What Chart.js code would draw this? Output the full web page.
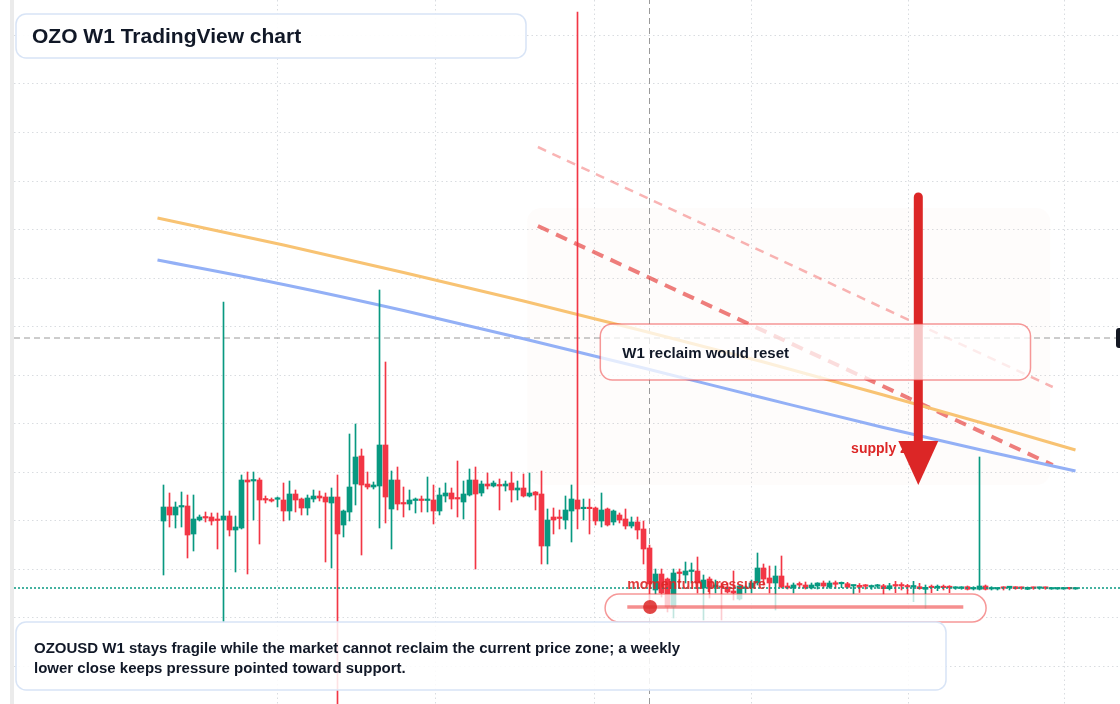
<!DOCTYPE html>
<html>
<head>
<meta charset="utf-8">
<script src="https://cdn.jsdelivr.net/npm/chart.js@4.4.1/dist/chart.umd.min.js"></script>
<style>
html, body { margin: 0; padding: 0; background: #fff; }
#wrap { width: 1120px; height: 704px; }
</style>
</head>
<body>
<div id="wrap"><canvas id="chart" width="1120" height="704"></canvas></div>
<script>
// weekly candles, price in chart units (index 0 = first week shown)
const opens = [193,207,199,207,208,180,194,197,197,194.5,194,198,184,186,234,233,234,215,214,214.7,
  214,203,220,215,206,215,218,217,211,217,189,202,230,258,230,227,228,269,205,234,
  211,210,213.5,214.5,213.5,214,203,218,221,216,212,219,234,221,230,228,229,228,231,224,
  226,218,222,220,168,197,196.5,194,203,214,205.3,206,206,193,205,192,199,195,188,192,
  185,166,124,140,135,107,141.5,139,142.5,143,126,135,127,127.5,127,123,115,125.5,126,131,
  146,136,131,138,128,126,130,129,126,128,131,127,131.3,130.2,130.3,128,128.7,128.3,127,127.7,
  128.3,125.3,128.7,128.7,127.7,127,127.3,124.7,127,126.3,127,127,125.7,125.7,127.3,125,124.7,128,125,125,
  126.3,126.3,127.3,126.3,124.7,126.3,125.7,126.3,125,125,125,125.7,125];
const highs = [229,221,212,222,219,219,199,202,201,201,412,203,198,239,242,242,236,218,216,217,
  231,233,224,216,219,224,223,221,226,239,204,280,290,265,242,232,424,352,243,247,
  227,224,216,218,237,229,226,231,226,253,233,245,247,233,241,233,235,233,242,233,
  240,241,222.5,243,205,206,204,218,229,702,215,215,207,221,206,204,201,205,197,197,
  193,169,145,145,136,145,145,152,151,157,139,137,134,131,131,143,128.5,128,134,161,
  150,148,148,158,131,131,132,132,131,131.3,133,133,133,132,131.7,129,130.5,129.5,129,129.7,
  129.7,130.7,132.7,131.3,129.7,132.7,130.7,129,129,129,129,128.3,127.3,127.3,128,127.3,257,129,127.3,126.3,
  127.3,127.3,127.3,127,127,127,127,127,126.3,126.3,126.3,126.3,126];
const lows = [139,187,186,187,156,163,193,192,189,165,92,178,142,185,140,194,170,211,212,207,
  193,194,202,199,199,212,213,152,146,0,177,193,209,159,225,225,186,191,165,204,
  197,204,201,202,202,190,199,212,205,197,195,218,145,218,225,227,204,223,212,214,
  217,217,204,150,150,180,185,185,172,185,194,180,189,187,188,189,191,185,186,175,
  150,111,120,117,102,96,131,131,131,121,94,116,121,94,121,114,114,121,121,129,
  129,121,104,126,125,121,126,125,125,125,126,125.7,125.7,126.3,125.7,120.3,121.5,125,124.7,125.7,
  119.7,124,121.3,124,119.7,112.3,124.7,105.7,121.3,123.3,124,121.3,124.7,124.7,124,124,124,124,124,124,
  124,124,124.7,124.7,124.3,124.7,124.7,124.7,124.7,124.7,124.7,124.7,124.7];
const closes = [207,199,207,208,179,195,197,196,193,193.5,198,184,187,234,232,234,214,214,213,215.3,
  203,220,214,206,216,218,216,212,217,180,203,227,257,229,227,229,269,217,234,210,
  210,214,214.5,213.5,214.5,203,219,221,215,215,220,234,220,230,228,231,228,230,224,226,
  218,221,219,168,194,194,195.5,204,215,205,206,205.3,193,204,189,203,194,188,192,184,
  165,130,140,121,107,141,140.5,143,143.5,131,134,127,129,126.5,122,121,128,126.5,131,146,
  135,131,138,127,126,129,129,126,129,131,128,131,129.7,131.2,126.7,128.8,126.7,127.7,128,128.5,
  125.3,128.3,128,128,127,127.7,125.3,126.7,126.3,127,126.3,126.3,126.3,126.3,124.7,125.7,128,124.7,125.7,125.7,
  125.7,127,125.3,125.7,126.7,125.7,126.3,125.7,125.7,125.7,125.7,125.2,125.7];

// moving averages, read at a few weeks
const maWeeks = [-1, 20, 40, 60, 80, 100, 120, 140, 152];
const maOrange = [496, 469, 441.5, 413, 383, 352, 319, 285, 264];
const maBlue = [454, 429.5, 403.5, 375.3, 346, 316, 286.5, 259, 243];

// descending trend lines [start, end]
const trendWeeks = [62.4, 148.2];
const trendUpper = [567, 327];
const trendLower = [488, 249];

// reference levels
const lastPrice = 126;
const crossWeek = 81;
const crossPrice = 376;

// annotation anchors (week, price)
const supplyZone = { w0: 60.6, w1: 147.8, p0: 229, p1: 506 };
const reclaimBox = { w0: 72.8, w1: 144.5, p0: 334, p1: 390 };
const arrow = { w: 125.8, top: 517, base: 273, tip: 229 };
const momentumPill = { w0: 73.6, w1: 137.1, p0: 92, p1: 120, line0: 77.3, line1: 133.3, lineP: 107, dot: 81.1 };
const supplyLabel = { w: 114.6, p: 261 };
const momentumLabel = { w: 77.3, p: 125 };

const gridWeeks = [19, 45.3, 71.8, 98, 124.1, 150.1];
const gridPrices = [48, 96.5, 145, 193.5, 242, 290.5, 339, 387.5, 436, 484.5, 533, 581.5, 630, 678.5];

const X_MIN = -24.9167, X_MAX = 159.4167, Y_MIN = 10, Y_MAX = 714;
const GREEN = '#089981', RED = '#f23645';

const idx = opens.map((_, i) => i);
const candleColors = idx.map(i => closes[i] >= opens[i] ? GREEN : RED);

function rr(ctx, x, y, w, h, r) {
  ctx.beginPath();
  ctx.moveTo(x + r, y);
  ctx.arcTo(x + w, y, x + w, y + h, r);
  ctx.arcTo(x + w, y + h, x, y + h, r);
  ctx.arcTo(x, y + h, x, y, r);
  ctx.arcTo(x, y, x + w, y, r);
  ctx.closePath();
}

const overlay = {
  id: 'overlay',
  beforeDraw(chart) {
    const ctx = chart.ctx;
    ctx.save();
    ctx.fillStyle = '#ffffff';
    ctx.fillRect(0, 0, chart.width, chart.height);
    ctx.fillStyle = '#ebebeb';
    ctx.fillRect(10, 0, 4, chart.height);
    ctx.restore();
  },
  beforeDatasetsDraw(chart) {
    const ctx = chart.ctx, x = chart.scales.x, y = chart.scales.y;
    ctx.save();
    const zx0 = x.getPixelForValue(supplyZone.w0), zx1 = x.getPixelForValue(supplyZone.w1);
    const zy0 = y.getPixelForValue(supplyZone.p1), zy1 = y.getPixelForValue(supplyZone.p0);
    rr(ctx, zx0, zy0, zx1 - zx0, zy1 - zy0, 14);
    ctx.fillStyle = 'rgba(235,200,180,0.05)';
    ctx.fill();
    ctx.restore();
  },
  afterDatasetsDraw(chart) {
    const ctx = chart.ctx, x = chart.scales.x, y = chart.scales.y;
    ctx.save();

    // momentum label
    ctx.font = 'bold 14px "Liberation Sans", Arial, sans-serif';
    ctx.fillStyle = 'rgba(220,38,38,0.9)';
    ctx.textBaseline = 'alphabetic';
    ctx.fillText('momentum pressure', x.getPixelForValue(momentumLabel.w), y.getPixelForValue(momentumLabel.p));

    // momentum pill
    const px0 = x.getPixelForValue(momentumPill.w0), px1 = x.getPixelForValue(momentumPill.w1);
    const py0 = y.getPixelForValue(momentumPill.p1), py1 = y.getPixelForValue(momentumPill.p0);
    rr(ctx, px0, py0, px1 - px0, py1 - py0, (py1 - py0) / 2);
    ctx.fillStyle = 'rgba(255,255,255,0.75)';
    ctx.fill();
    ctx.strokeStyle = 'rgba(239,68,68,0.55)';
    ctx.lineWidth = 1.5;
    ctx.stroke();
    const ly = y.getPixelForValue(momentumPill.lineP);
    ctx.beginPath();
    ctx.moveTo(x.getPixelForValue(momentumPill.line0), ly);
    ctx.lineTo(x.getPixelForValue(momentumPill.line1), ly);
    ctx.strokeStyle = 'rgba(239,68,68,0.6)';
    ctx.lineWidth = 3.5;
    ctx.stroke();
    ctx.beginPath();
    ctx.arc(x.getPixelForValue(momentumPill.dot), ly, 7, 0, Math.PI * 2);
    ctx.fillStyle = 'rgba(220,38,38,0.85)';
    ctx.fill();

    // supply label + arrow
    ctx.font = 'bold 14px "Liberation Sans", Arial, sans-serif';
    ctx.fillStyle = '#dc2626';
    ctx.fillText('supply zone', x.getPixelForValue(supplyLabel.w), y.getPixelForValue(supplyLabel.p));
    const ax = x.getPixelForValue(arrow.w);
    const aTop = y.getPixelForValue(arrow.top), aBase = y.getPixelForValue(arrow.base), aTip = y.getPixelForValue(arrow.tip);
    ctx.beginPath();
    ctx.moveTo(ax, aTop);
    ctx.lineTo(ax, aBase + 2);
    ctx.strokeStyle = '#dc2626';
    ctx.lineWidth = 9;
    ctx.lineCap = 'round';
    ctx.stroke();
    ctx.beginPath();
    ctx.moveTo(ax - 20, aBase);
    ctx.lineTo(ax + 20, aBase);
    ctx.lineTo(ax, aTip);
    ctx.closePath();
    ctx.fillStyle = '#dc2626';
    ctx.fill();

    // reclaim box
    const bx0 = x.getPixelForValue(reclaimBox.w0), bx1 = x.getPixelForValue(reclaimBox.w1);
    const by0 = y.getPixelForValue(reclaimBox.p1), by1 = y.getPixelForValue(reclaimBox.p0);
    rr(ctx, bx0, by0, bx1 - bx0, by1 - by0, 12);
    ctx.fillStyle = 'rgba(255,255,255,0.74)';
    ctx.fill();
    ctx.strokeStyle = 'rgba(239,68,68,0.55)';
    ctx.lineWidth = 1.5;
    ctx.stroke();
    ctx.font = 'bold 15px "Liberation Sans", Arial, sans-serif';
    ctx.fillStyle = '#111827';
    ctx.fillText('W1 reclaim would reset', bx0 + 22, by0 + 34);

    // title box
    rr(ctx, 16, 14, 510, 44, 10);
    ctx.fillStyle = 'rgba(255,255,255,0.92)';
    ctx.fill();
    ctx.strokeStyle = '#d8e4f6';
    ctx.lineWidth = 1.5;
    ctx.stroke();
    ctx.font = 'bold 21px "Liberation Sans", Arial, sans-serif';
    ctx.fillStyle = '#111827';
    ctx.fillText('OZO W1 TradingView chart', 32, 43);

    // caption box
    rr(ctx, 16, 622, 930, 68, 10);
    ctx.fillStyle = 'rgba(255,255,255,0.86)';
    ctx.fill();
    ctx.strokeStyle = '#d8e4f6';
    ctx.stroke();
    ctx.font = 'bold 15px "Liberation Sans", Arial, sans-serif';
    ctx.fillStyle = '#111827';
    ctx.fillText('OZOUSD W1 stays fragile while the market cannot reclaim the current price zone; a weekly', 34, 653);
    ctx.fillText('lower close keeps pressure pointed toward support.', 34, 673);

    // price label at right edge
    const cy = y.getPixelForValue(crossPrice);
    rr(ctx, 1116, cy - 10, 20, 20, 3);
    ctx.fillStyle = '#131722';
    ctx.fill();
    ctx.restore();
  }
};

new Chart(document.getElementById('chart'), {
  type: 'bar',
  data: {
    datasets: [
      {
        type: 'line', label: 'crosshair h',
        data: [{ x: X_MIN, y: crossPrice }, { x: X_MAX, y: crossPrice }],
        borderColor: '#9a9a9a', borderWidth: 1, borderDash: [6, 4], pointRadius: 0, order: 10
      },
      {
        type: 'line', label: 'crosshair v',
        data: [{ x: crossWeek, y: Y_MIN }, { x: crossWeek, y: Y_MAX }],
        borderColor: '#9a9a9a', borderWidth: 1, borderDash: [6, 4], pointRadius: 0, order: 10
      },
      {
        type: 'line', label: 'trend upper',
        data: trendWeeks.map((w, i) => ({ x: w, y: trendUpper[i] })),
        borderColor: 'rgba(239,68,68,0.4)', borderWidth: 2.5, borderDash: [9, 7], pointRadius: 0, order: 6
      },
      {
        type: 'line', label: 'trend lower',
        data: trendWeeks.map((w, i) => ({ x: w, y: trendLower[i] })),
        borderColor: 'rgba(229,57,53,0.65)', borderWidth: 4, borderDash: [12, 8], pointRadius: 0, order: 6
      },
      {
        type: 'line', label: 'MA orange',
        data: maWeeks.map((w, i) => ({ x: w, y: maOrange[i] })),
        borderColor: '#f8c373', borderWidth: 3, pointRadius: 0, cubicInterpolationMode: 'monotone', order: 5
      },
      {
        type: 'line', label: 'MA blue',
        data: maWeeks.map((w, i) => ({ x: w, y: maBlue[i] })),
        borderColor: '#93b0f6', borderWidth: 3, pointRadius: 0, cubicInterpolationMode: 'monotone', order: 5
      },
      {
        label: 'wicks',
        data: idx.map(i => ({ x: i, y: [lows[i], highs[i]] })),
        backgroundColor: candleColors, borderWidth: 0, barThickness: 1, grouped: false, order: 2
      },
      {
        label: 'bodies',
        data: idx.map(i => ({ x: i, y: [opens[i], closes[i]] })),
        backgroundColor: candleColors, borderWidth: 0, barThickness: 5, minBarLength: 1.5, grouped: false, order: 1
      },
      {
        type: 'line', label: 'last price',
        data: [{ x: X_MIN, y: lastPrice }, { x: X_MAX, y: lastPrice }],
        borderColor: '#089981', borderWidth: 1.5, borderDash: [2, 2], pointRadius: 0, order: 0
      }
    ]
  },
  options: {
    animation: false,
    responsive: false,
    layout: { padding: { left: 14, right: 0, top: 0, bottom: 0 } },
    plugins: { legend: { display: false }, tooltip: { enabled: false }, title: { display: false } },
    scales: {
      x: {
        type: 'linear', min: X_MIN, max: X_MAX, offset: false,
        afterBuildTicks: s => { s.ticks = gridWeeks.map(v => ({ value: v })); },
        afterFit: s => { s.height = 0; },
        ticks: { display: false },
        grid: { offset: false, drawTicks: false, color: '#d9dce0', lineWidth: 1, borderDash: [1.5, 3] },
        border: { display: false, dash: [1.5, 3] }
      },
      y: {
        type: 'linear', min: Y_MIN, max: Y_MAX,
        afterBuildTicks: s => { s.ticks = gridPrices.map(v => ({ value: v })); },
        afterFit: s => { s.width = 0; },
        ticks: { display: false },
        grid: { drawTicks: false, color: '#d9dce0', lineWidth: 1, borderDash: [1.5, 3] },
        border: { display: false, dash: [1.5, 3] }
      }
    }
  },
  plugins: [overlay]
});
</script>
</body>
</html>
